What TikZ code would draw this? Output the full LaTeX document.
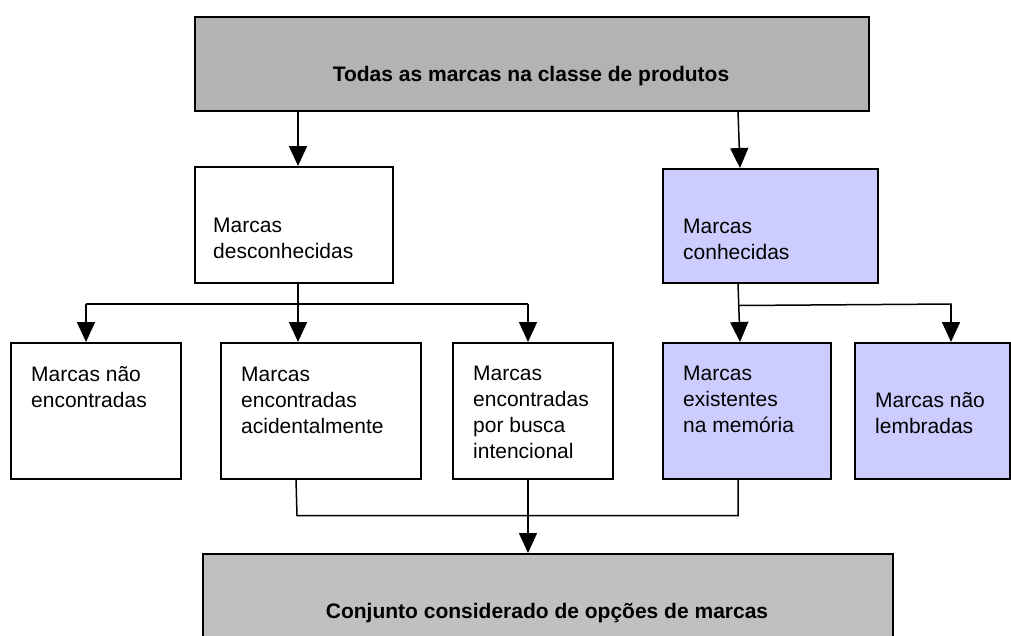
\documentclass[tikz,border=0pt]{standalone}
\usepackage{fontspec}
\setmainfont{Liberation Sans}
\usetikzlibrary{arrows.meta,calc}
\definecolor{topgray}{HTML}{B3B3B3}
\definecolor{botgray}{HTML}{C0C0C0}
\definecolor{lav}{HTML}{CCCCFF}
\tikzset{
  boxbase/.style={draw=black, line width=1.5pt, rectangle, inner sep=0pt, anchor=north west},
  wbox/.style={boxbase, fill=white},
  pbox/.style={boxbase, fill=lav},
  txt/.style={inner sep=0pt, anchor=base west, font=\fontsize{21}{26}\selectfont},
  btxt/.style={inner sep=0pt, anchor=base, font=\fontsize{21}{26}\selectfont\bfseries},
  conn/.style={line width=1.5pt, draw=black},
  arr/.style={conn, -{Triangle[width=18pt,length=20pt]}}
}
\begin{document}
\begin{tikzpicture}[x=1pt,y=-1pt]
\useasboundingbox (0,0) rectangle (1011,635);
% boxes
\node[boxbase, fill=topgray, minimum width=674pt, minimum height=94pt] (top) at (194,16) {};
\node[wbox, minimum width=198pt, minimum height=116pt] (desc) at (194,166) {};
\node[pbox, minimum width=215pt, minimum height=114pt] (conh) at (662,168) {};
\node[wbox, minimum width=170pt, minimum height=136pt] (b1) at (10,342) {};
\node[wbox, minimum width=200pt, minimum height=136pt] (b2) at (220,342) {};
\node[wbox, minimum width=160pt, minimum height=136pt] (b3) at (452,342) {};
\node[pbox, minimum width=168pt, minimum height=136pt] (b4) at (662,342) {};
\node[pbox, minimum width=155pt, minimum height=136pt] (b5) at (854,342) {};
\node[boxbase, fill=botgray, minimum width=690pt, minimum height=100pt] (bot) at (202,553) {};
% texts
\node[btxt] (ttop) at ($(top.north west)+(337,65)$) {Todas as marcas na classe de produtos};
\node[txt] (tdesc) at ($(desc.north west)+(19,66)$) {\parbox[t]{190pt}{Marcas\\desconhecidas}};
\node[txt] (tconh) at ($(conh.north west)+(21,65)$) {\parbox[t]{190pt}{Marcas\\conhecidas}};
\node[txt] (t1) at ($(b1.north west)+(21,39)$) {\parbox[t]{160pt}{Marcas não\\encontradas}};
\node[txt] (t2) at ($(b2.north west)+(21,39)$) {\parbox[t]{180pt}{Marcas\\encontradas\\acidentalmente}};
\node[txt] (t3) at ($(b3.north west)+(21,38)$) {\parbox[t]{140pt}{Marcas\\encontradas\\por busca\\intencional}};
\node[txt] (t4) at ($(b4.north west)+(21,38)$) {\parbox[t]{150pt}{Marcas\\existentes\\na memória}};
\node[txt] (t5) at ($(b5.north west)+(21,65)$) {\parbox[t]{140pt}{Marcas não\\lembradas}};
\node[btxt] (tbot) at ($(bot.north west)+(345,65)$) {Conjunto considerado de opções de marcas};
% helper coordinates
\coordinate (jl) at ($(desc.south west)+(104,22)$);
\coordinate (jll) at ($(b1.north west)+(76,-38)$);
\coordinate (jlr) at ($(b3.north west)+(76,-38)$);
\coordinate (jr) at ($(conh.south west)+(77,22)$);
\coordinate (jrr) at ($(b5.north west)+(97,-38)$);
\coordinate (jb1) at ($(b2.south west)+(77,36)$);
\coordinate (jb3) at ($(b4.south west)+(76,36)$);
% connectors from top
\draw[arr] ($(top.south west)+(104,0)$) -- ($(desc.north west)+(104,0)$);
\draw[arr] ($(top.south west)+(544,0)$) -- ($(conh.north west)+(78,0)$);
% from desconhecidas
\draw[arr] ($(desc.south west)+(104,0)$) -- ($(b2.north west)+(78,0)$);
\draw[conn] (jll) -- (jlr);
\draw[arr] (jll) -- ($(b1.north west)+(76,0)$);
\draw[arr] (jlr) -- ($(b3.north west)+(76,0)$);
% from conhecidas
\draw[arr] ($(conh.south west)+(76,0)$) -- ($(b4.north west)+(78,0)$);
\draw[conn] (jr) -- ($(jrr)+(0.75,0)$);
\draw[arr] (jrr) -- ($(b5.north west)+(97,0)$);
% to bottom
\draw[conn] ($(b2.south west)+(76,0)$) -- (jb1) -- (jb3) -- ($(b4.south west)+(76,0)$);
\draw[arr] ($(b3.south west)+(76,0)$) -- ($(bot.north west)+(326,0)$);
\end{tikzpicture}
\end{document}
